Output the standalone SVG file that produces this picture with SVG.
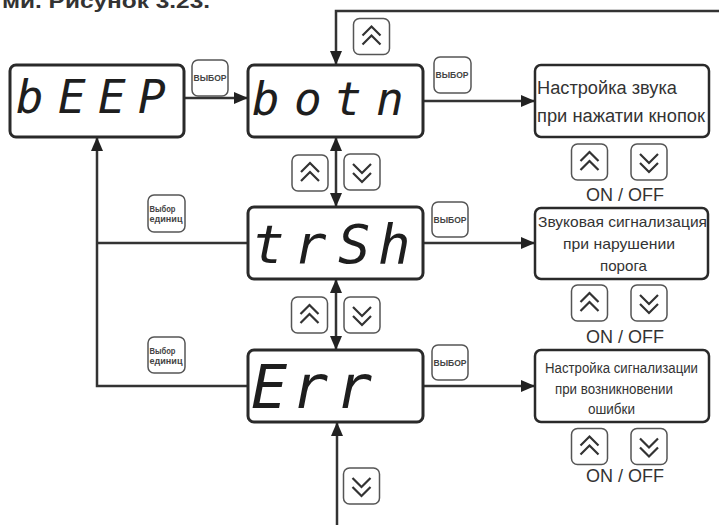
<svg xmlns="http://www.w3.org/2000/svg" width="719" height="525" viewBox="0 0 719 525">
<style>
.disp{fill:#fff;stroke:#2a2a2a;stroke-width:3}
.box{fill:#fff;stroke:#2a2a2a;stroke-width:2.5}
.btn{fill:#fff;stroke:#555;stroke-width:1.5}
.seg{font-family:"DejaVu Sans Mono",monospace;font-style:italic;fill:#1e1e1e}
.lbl{font-family:"Liberation Sans",Arial,sans-serif;fill:#333}
.btxt{font-family:"Liberation Sans",Arial,sans-serif;font-weight:bold;font-size:8.5px;fill:#444}
.chev{fill:none;stroke:#333;stroke-width:2.2;stroke-linejoin:miter}
.con{fill:none;stroke:#333;stroke-width:2.5}
</style>
<defs>
<marker id="ah" markerUnits="userSpaceOnUse" markerWidth="15" markerHeight="12" refX="14" refY="6" orient="auto-start-reverse"><path d="M0,0 L14,6 L0,12 z" fill="#222"/></marker>
<g id="up"><rect class="btn" x="-18" y="-18" width="36" height="36" rx="6"/><polyline class="chev" points="-9,-1 0,-10 9,-1"/><polyline class="chev" points="-9,8 0,-1 9,8"/></g>
<g id="down"><rect class="btn" x="-18" y="-18" width="36" height="36" rx="6"/><polyline class="chev" points="-9,-8 0,1 9,-8"/><polyline class="chev" points="-9,1 0,10 9,1"/></g>
</defs>
<text class="lbl" x="2" y="8" font-size="21" font-weight="bold" fill="#222" textLength="208" lengthAdjust="spacingAndGlyphs">ми. Рисунок 3.23.</text>
<g id="connectors">
<line class="con" x1="184" y1="98" x2="248" y2="98" marker-end="url(#ah)"/>
<line class="con" x1="423" y1="101" x2="535" y2="101" marker-end="url(#ah)"/>
<line class="con" x1="423" y1="243" x2="535" y2="243" marker-end="url(#ah)"/>
<line class="con" x1="423" y1="386" x2="535" y2="386" marker-end="url(#ah)"/>
<path class="con" d="M719,11 H336 V65" marker-end="url(#ah)"/>
<line class="con" x1="336" y1="137" x2="336" y2="207" marker-start="url(#ah)" marker-end="url(#ah)"/>
<line class="con" x1="336" y1="279" x2="336" y2="350" marker-start="url(#ah)" marker-end="url(#ah)"/>
<line class="con" x1="337" y1="525" x2="337" y2="422" marker-end="url(#ah)"/>
<path class="con" d="M248,386 H97 V137" marker-end="url(#ah)"/>
<line class="con" x1="248" y1="243" x2="97" y2="243"/>
</g>
<g id="bEEP"><rect class="disp" x="10" y="65" width="174" height="72" rx="6"/><text class="seg" font-size="46" x="16 58 98 138" y="113">bEEP</text></g>
<g id="botn"><rect class="disp" x="248" y="65" width="175" height="72" rx="6"/><text class="seg" font-size="46" x="252 294 334 376" y="115">botn</text></g>
<g id="trSh"><rect class="disp" x="248" y="207" width="175" height="72" rx="6"/><text class="seg" font-size="54" x="252 294 338 378" y="263">trSh</text></g>
<g id="Err"><rect class="disp" x="248" y="350" width="175" height="72" rx="6"/><text class="seg" font-size="60" x="251 292 336" y="408">Err</text></g>
<g id="box1"><rect class="box" x="535" y="65" width="174" height="72" rx="6"/>
<text class="lbl" font-size="18" x="537" y="94" textLength="140" lengthAdjust="spacingAndGlyphs">Настройка звука</text>
<text class="lbl" font-size="18" x="537" y="122" textLength="168" lengthAdjust="spacingAndGlyphs">при нажатии кнопок</text></g>
<g id="box2"><rect class="box" x="535" y="208" width="173" height="71" rx="6"/>
<text class="lbl" font-size="15" x="538" y="227" textLength="169" lengthAdjust="spacingAndGlyphs">Звуковая сигнализация</text>
<text class="lbl" font-size="15" x="563" y="249" textLength="112" lengthAdjust="spacingAndGlyphs">при нарушении</text>
<text class="lbl" font-size="15" x="600" y="271" textLength="47" lengthAdjust="spacingAndGlyphs">порога</text></g>
<g id="box3"><rect class="box" x="535" y="350" width="174" height="72" rx="6"/>
<text class="lbl" font-size="14" x="545" y="373" textLength="153" lengthAdjust="spacingAndGlyphs">Настройка сигнализации</text>
<text class="lbl" font-size="14" x="555" y="394" textLength="118" lengthAdjust="spacingAndGlyphs">при возникновении</text>
<text class="lbl" font-size="14" x="588" y="414" textLength="47" lengthAdjust="spacingAndGlyphs">ошибки</text></g>
<g id="btn-vybor1"><rect class="btn" x="192" y="60" width="36" height="36" rx="6"/><text class="btxt" x="193.5" y="81" textLength="33" lengthAdjust="spacingAndGlyphs">ВЫБОР</text></g>
<g id="btn-vybor2"><rect class="btn" x="434" y="57" width="37" height="36" rx="6"/><text class="btxt" x="435.5" y="78" textLength="33" lengthAdjust="spacingAndGlyphs">ВЫБОР</text></g>
<g id="btn-vybor3"><rect class="btn" x="432" y="202" width="36" height="35" rx="6"/><text class="btxt" x="433.5" y="222.5" textLength="33" lengthAdjust="spacingAndGlyphs">ВЫБОР</text></g>
<g id="btn-vybor4"><rect class="btn" x="432" y="345" width="36" height="35" rx="6"/><text class="btxt" x="433.5" y="365.5" textLength="33" lengthAdjust="spacingAndGlyphs">ВЫБОР</text></g>
<g id="btn-units1"><rect class="btn" x="148" y="195" width="37" height="37" rx="6"/><text class="btxt" x="149.5" y="211.5" textLength="26" lengthAdjust="spacingAndGlyphs">Выбор</text><text class="btxt" x="149.5" y="221.5" textLength="33" lengthAdjust="spacingAndGlyphs">единиц</text></g>
<g id="btn-units2"><rect class="btn" x="148" y="337" width="37" height="36" rx="6"/><text class="btxt" x="149.5" y="353.5" textLength="26" lengthAdjust="spacingAndGlyphs">Выбор</text><text class="btxt" x="149.5" y="363.5" textLength="33" lengthAdjust="spacingAndGlyphs">единиц</text></g>
<g id="nav-buttons">
<use href="#up" x="371.5" y="36.5"/>
<use href="#up" x="310" y="173"/>
<use href="#down" x="362" y="172"/>
<use href="#up" x="309.5" y="315"/>
<use href="#down" x="362" y="315"/>
<use href="#down" x="361.5" y="486"/>
<use href="#up" x="589.5" y="162"/>
<use href="#down" x="649" y="162"/>
<use href="#up" x="589.5" y="303"/>
<use href="#down" x="649" y="303"/>
<use href="#up" x="589.5" y="446.5"/>
<use href="#down" x="649" y="446.5"/>
</g>
<g id="onoff">
<text class="lbl" font-size="18" x="625" y="201" text-anchor="middle">ON / OFF</text>
<text class="lbl" font-size="18" x="625" y="343" text-anchor="middle">ON / OFF</text>
<text class="lbl" font-size="18" x="625" y="482" text-anchor="middle">ON / OFF</text>
</g>
</svg>
